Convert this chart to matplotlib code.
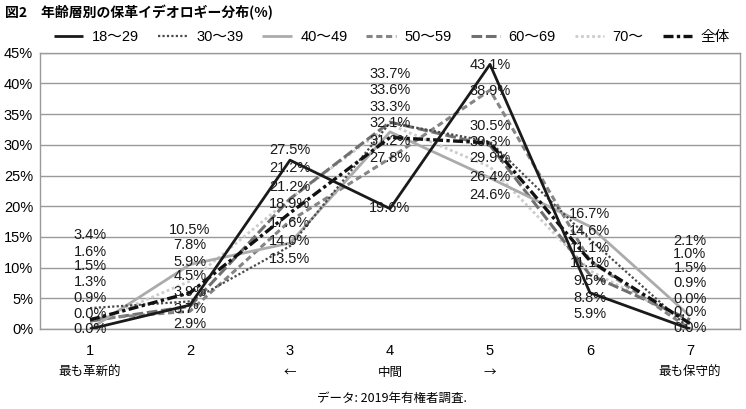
import matplotlib
matplotlib.use("Agg")
import matplotlib.pyplot as plt
import numpy as np

plt.rcParams['font.family'] = ['Liberation Sans', 'Noto Sans CJK JP', 'DejaVu Sans']

# ---- data ----
categories = [1, 2, 3, 4, 5, 6, 7]
series_names = ['18〜29', '30〜39', '40〜49', '50〜59', '60〜69', '70〜', '全体']
v_18_29 = [0.0, 3.9, 27.5, 19.6, 43.1, 5.9, 0.0]
v_30_39 = [3.4, 4.5, 13.5, 33.6, 30.5, 14.6, 0.0]
v_40_49 = [0.0, 10.5, 14.0, 32.1, 24.6, 16.7, 2.1]
v_50_59 = [1.6, 2.9, 17.6, 27.8, 38.9, 11.1, 0.0]
v_60_69 = [1.3, 3.7, 21.2, 33.7, 29.9, 8.8, 1.5]
v_70 = [0.9, 7.8, 21.2, 33.3, 26.4, 9.5, 1.0]
v_all = [1.5, 5.9, 18.9, 31.2, 30.3, 11.1, 0.9]
series_values = [v_18_29, v_30_39, v_40_49, v_50_59, v_60_69, v_70, v_all]
yticks = [0, 5, 10, 15, 20, 25, 30, 35, 40, 45]
scale_labels = {1: '最も革新的', 3: '←', 4: '中間', 5: '→', 7: '最も保守的'}

# ---- styles ----
styles = [
    dict(color='#1a1a1a', lw=2.0, ls='-', zorder=9),
    dict(color='#4a4a4a', lw=1.6, ls=(0, (1, 1)), zorder=6),
    dict(color='#ababab', lw=2.0, ls='-', zorder=5),
    dict(color='#858585', lw=2.2, ls=(0, (2, 1.2)), zorder=4),
    dict(color='#707070', lw=2.2, ls=(0, (3.5, 1.2)), zorder=3),
    dict(color='#cccccc', lw=2.0, ls=(0, (1, 1)), zorder=2),
    dict(color='#111111', lw=2.4, ls=(0, (3, 1, 1, 1)), zorder=8),
]

fig = plt.figure(figsize=(7.46, 4.09), dpi=100)
ax = fig.add_axes([40 / 746, 1 - 329 / 409, 700 / 746, (329 - 52.7) / 409])

for name, vals, st in zip(series_names, series_values, styles):
    ax.plot(categories, vals, label=name, solid_capstyle='butt', dash_capstyle='butt', **st)

ax.set_xlim(0.5, 7.5)
ax.set_ylim(0, 45)
ax.set_yticks(yticks)
ax.set_yticklabels([f'{t}%' for t in yticks], fontsize=10.5)
ax.set_xticks(categories)
ax.set_xticklabels([str(c) for c in categories], fontsize=10.5)
ax.tick_params(axis='both', length=0)
ax.tick_params(axis='x', pad=11)
ax.tick_params(axis='y', pad=5)
ax.grid(axis='y', color='#9a9a9a', lw=1.0)
ax.set_axisbelow(True)
for sp in ax.spines.values():
    sp.set_color('#9a9a9a')
    sp.set_linewidth(1.0)

# ---- stacked value labels (positions in data units per column) ----
label_y = [
    [15.3, 12.5, 10.2, 7.6, 5.0, 2.4, 0.0],
    [16.2, 13.6, 10.9, 8.6, 6.0, 3.2, 0.8],
    [29.2, 26.2, 23.2, 20.3, 17.2, 14.3, 11.4],
    [41.6, 39.0, 36.2, 33.5, 30.7, 27.8, 19.7],
    [43.0, 38.7, 33.0, 30.5, 27.8, 24.7, 21.9],
    [18.7, 15.9, 13.2, 10.7, 7.8, 5.0, 2.4],
    [14.3, 12.2, 9.9, 7.5, 4.9, 2.8, 0.2],
]
arr = np.array(series_values)
for ci, cat in enumerate(categories):
    col = arr[:, ci]
    order = list(np.argsort(-col, kind='stable'))
    if ci == 6:
        order = [2, 5, 4, 6, 0, 1, 3]
    for k, si in enumerate(order):
        ax.text(cat, label_y[ci][k], f'{col[si]:.1f}%', ha='center', va='center',
                fontsize=10.5, color='#1a1a1a', zorder=20)

for cat, txt in scale_labels.items():
    fig.text((40 + (cat - 0.5) * 100) / 746, 1 - 372 / 409, txt, ha='center', va='center',
             fontsize=9, family=['Noto Sans CJK JP', 'DejaVu Sans'])

fig.text(392 / 746, 1 - 398 / 409, 'データ: 2019年有権者調査.', ha='center', va='center',
         fontsize=9, family=['Noto Sans CJK JP', 'DejaVu Sans'])
fig.text(5 / 746, 1 - 13 / 409, '図2　年齢層別の保革イデオロギー分布(%)', ha='left', va='center',
         fontsize=10, fontweight='bold', family=['Noto Sans CJK JP', 'DejaVu Sans'])

leg = fig.legend(loc='center', bbox_to_anchor=(392 / 746, 1 - 37 / 409), ncol=7, frameon=False,
                 handlelength=2.0, columnspacing=1.3, handletextpad=0.6,
                 prop={'family': ['Liberation Sans', 'Noto Sans CJK JP'], 'size': 10.5})

fig.savefig('out.png', dpi=100)
